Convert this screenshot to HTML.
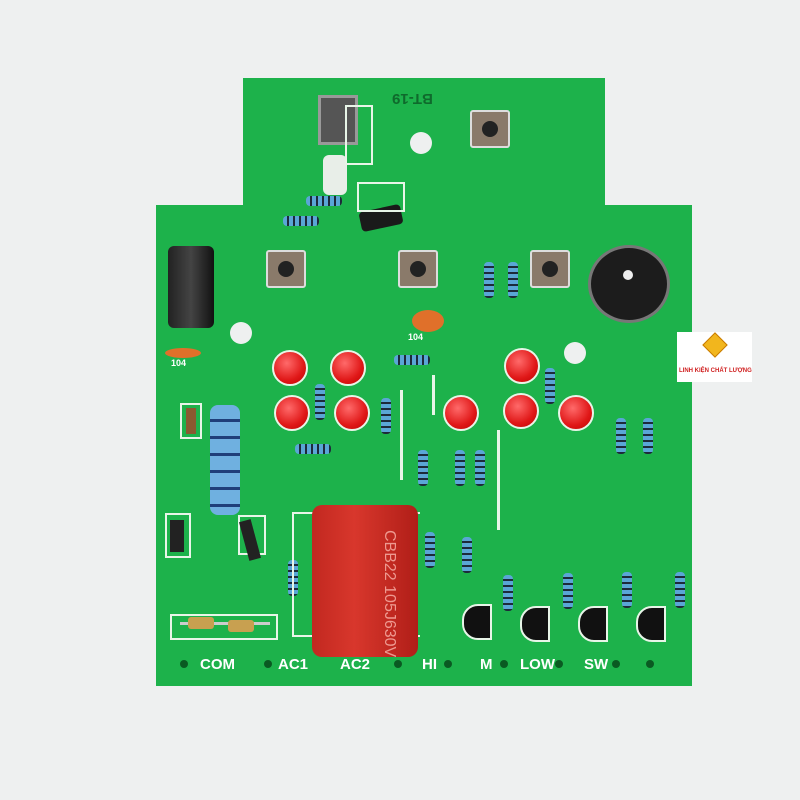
<!DOCTYPE html>
<html><head><meta charset="utf-8"><style>
body{margin:0;width:800px;height:800px;background:#eef0f0;position:relative;overflow:hidden;font-family:"Liberation Sans","Noto Sans CJK SC",sans-serif}
div{position:absolute;box-sizing:border-box}
.g{background:#1db24b}
.rv{width:10px;height:36px;border-radius:4px;background:repeating-linear-gradient(180deg,#5aa6d6 0 4px,#1d2a3a 4px 6px)}
.rh{height:10px;width:36px;border-radius:4px;background:repeating-linear-gradient(90deg,#5aa6d6 0 4px,#1d2a3a 4px 6px)}
.led{width:36px;height:36px;border-radius:50%;background:radial-gradient(circle at 40% 35%,#ff6a6a,#e01818 60%,#b00 100%);border:2px solid #e8f5e8}
.hole{border-radius:50%;background:#eef0f0}
.btn{width:40px;height:38px;background:#8a7a6a;border:2px solid #ddd;border-radius:3px}
.btn:after{content:"";position:absolute;left:10px;top:9px;width:16px;height:16px;border-radius:50%;background:#222}
.tr{width:30px;height:36px;background:#111;border-radius:16px 0 0 16px;border:2px solid #e8f5e8}
.lbl{color:#fff;font-weight:bold;font-size:15px}
.pad{width:8px;height:8px;border-radius:50%;background:#0a5a22}
.box{border:2px solid #e8f5e8}
</style></head><body>
<div class="g" style="left:243px;top:78px;width:362px;height:130px"></div>
<div class="g" style="left:156px;top:205px;width:536px;height:481px"></div>
<div style="left:392px;top:90px;color:#0f6a2c;font-size:15px;font-weight:bold;transform:rotate(180deg)">BT-19</div>
<div class="hole" style="left:410px;top:132px;width:22px;height:22px"></div>
<div class="hole" style="left:230px;top:322px;width:22px;height:22px"></div>
<div class="hole" style="left:564px;top:342px;width:22px;height:22px"></div>
<!-- IR receiver -->
<div style="left:318px;top:95px;width:40px;height:50px;background:#555;border:3px solid #999"></div>
<div style="left:323px;top:155px;width:24px;height:40px;background:#e8eee8;border-radius:6px"></div>
<div class="box" style="left:345px;top:105px;width:28px;height:60px"></div>
<div class="rh" style="left:306px;top:196px"></div>
<div class="rh" style="left:283px;top:216px"></div>
<div style="left:360px;top:208px;width:42px;height:20px;background:#1a1a1a;transform:rotate(-12deg);border-radius:4px"></div>
<div class="box" style="left:357px;top:182px;width:48px;height:30px"></div>
<!-- buttons -->
<div class="btn" style="left:470px;top:110px"></div>
<div class="btn" style="left:266px;top:250px"></div>
<div class="btn" style="left:398px;top:250px"></div>
<div class="btn" style="left:530px;top:250px"></div>
<!-- electrolytic -->
<div style="left:168px;top:246px;width:46px;height:82px;background:linear-gradient(90deg,#222,#444 50%,#111);border-radius:6px"></div>
<!-- buzzer -->
<div style="left:588px;top:245px;width:82px;height:78px;border-radius:50%;background:#1c1c1c;border:3px solid #777"></div>
<div style="left:623px;top:270px;width:10px;height:10px;border-radius:50%;background:#eee"></div>
<div class="rv" style="left:484px;top:262px"></div>
<div class="rv" style="left:508px;top:262px"></div>
<div style="left:412px;top:310px;width:32px;height:22px;border-radius:50%;background:#e0702a"></div>
<div style="left:165px;top:348px;width:36px;height:10px;border-radius:50%;background:#e0702a"></div>
<div style="left:408px;top:332px;color:#fff;font-size:9px;font-weight:bold">104</div>
<div style="left:171px;top:358px;color:#fff;font-size:9px;font-weight:bold">104</div>
<!-- LEDs -->
<div class="led" style="left:272px;top:350px"></div>
<div class="led" style="left:330px;top:350px"></div>
<div class="led" style="left:504px;top:348px"></div>
<div class="led" style="left:274px;top:395px"></div>
<div class="led" style="left:334px;top:395px"></div>
<div class="led" style="left:443px;top:395px"></div>
<div class="led" style="left:503px;top:393px"></div>
<div class="led" style="left:558px;top:395px"></div>
<!-- resistors -->
<div class="rh" style="left:394px;top:355px"></div>
<div class="rh" style="left:295px;top:444px"></div>
<div class="rv" style="left:315px;top:384px"></div>
<div class="rv" style="left:381px;top:398px"></div>
<div class="rv" style="left:545px;top:368px"></div>
<div class="rv" style="left:616px;top:418px"></div>
<div class="rv" style="left:643px;top:418px"></div>
<div class="rv" style="left:418px;top:450px"></div>
<div class="rv" style="left:455px;top:450px"></div>
<div class="rv" style="left:475px;top:450px"></div>
<div class="rv" style="left:425px;top:532px"></div>
<div class="rv" style="left:462px;top:537px"></div>
<div class="rv" style="left:503px;top:575px"></div>
<div class="rv" style="left:563px;top:573px"></div>
<div class="rv" style="left:622px;top:572px"></div>
<div class="rv" style="left:675px;top:572px"></div>
<div class="rv" style="left:288px;top:560px"></div>
<div style="left:400px;top:390px;width:3px;height:90px;background:#e8f5e8"></div>
<div style="left:497px;top:430px;width:3px;height:100px;background:#e8f5e8"></div>
<div style="left:432px;top:375px;width:3px;height:40px;background:#e8f5e8"></div>
<!-- big blue resistor -->
<div style="left:210px;top:405px;width:30px;height:110px;border-radius:8px;background:repeating-linear-gradient(180deg,#6fb0e0 0 14px,#1f3f7a 14px 17px)"></div>
<!-- diodes -->
<div class="box" style="left:180px;top:403px;width:22px;height:36px"></div>
<div style="left:186px;top:408px;width:10px;height:26px;background:#8a5a30"></div>
<div class="box" style="left:165px;top:513px;width:26px;height:45px"></div>
<div style="left:170px;top:520px;width:14px;height:32px;background:#222"></div>
<div class="box" style="left:238px;top:515px;width:28px;height:40px"></div>
<div style="left:244px;top:520px;width:12px;height:40px;background:#222;transform:rotate(-15deg)"></div>
<!-- big red capacitor -->
<div class="box" style="left:292px;top:512px;width:128px;height:125px;border-right:none"></div>
<div style="left:312px;top:505px;width:106px;height:152px;background:linear-gradient(90deg,#c22820,#d8372c 40%,#b01e18);border-radius:10px"></div>
<div style="left:322px;top:560px;color:#ee9990;font-size:16px;transform:rotate(90deg);transform-origin:left top;left:398px;top:530px;white-space:nowrap">CBB22 105J630V</div>
<!-- transistors -->
<div class="tr" style="left:462px;top:604px"></div>
<div class="tr" style="left:520px;top:606px"></div>
<div class="tr" style="left:578px;top:606px"></div>
<div class="tr" style="left:636px;top:606px"></div>
<!-- fuse -->
<div class="box" style="left:170px;top:614px;width:108px;height:26px"></div>
<div style="left:180px;top:622px;width:90px;height:3px;background:#ccc"></div>
<div style="left:188px;top:617px;width:26px;height:12px;background:#c8a050;border-radius:3px"></div>
<div style="left:228px;top:620px;width:26px;height:12px;background:#c8a050;border-radius:3px"></div>
<!-- pads & labels -->
<div class="pad" style="left:180px;top:660px"></div>
<div class="pad" style="left:264px;top:660px"></div>
<div class="pad" style="left:394px;top:660px"></div>
<div class="pad" style="left:444px;top:660px"></div>
<div class="pad" style="left:500px;top:660px"></div>
<div class="pad" style="left:555px;top:660px"></div>
<div class="pad" style="left:612px;top:660px"></div>
<div class="pad" style="left:646px;top:660px"></div>
<div class="lbl" style="left:200px;top:656px">COM</div>
<div class="lbl" style="left:278px;top:656px">AC1</div>
<div class="lbl" style="left:340px;top:656px">AC2</div>
<div class="lbl" style="left:422px;top:656px">HI</div>
<div class="lbl" style="left:480px;top:656px">M</div>
<div class="lbl" style="left:520px;top:656px">LOW</div>
<div class="lbl" style="left:584px;top:656px">SW</div>
<!-- logo -->
<div style="left:677px;top:332px;width:75px;height:50px;background:#fff"></div>
<div style="left:706px;top:336px;width:18px;height:18px;background:#f2b61d;transform:rotate(45deg);border:1px solid #c87a00"></div>
<div style="left:679px;top:368px;color:#d02020;font-size:6px;font-weight:bold;white-space:nowrap">LINH KIỆN CHẤT LƯỢNG</div>
</body></html>
